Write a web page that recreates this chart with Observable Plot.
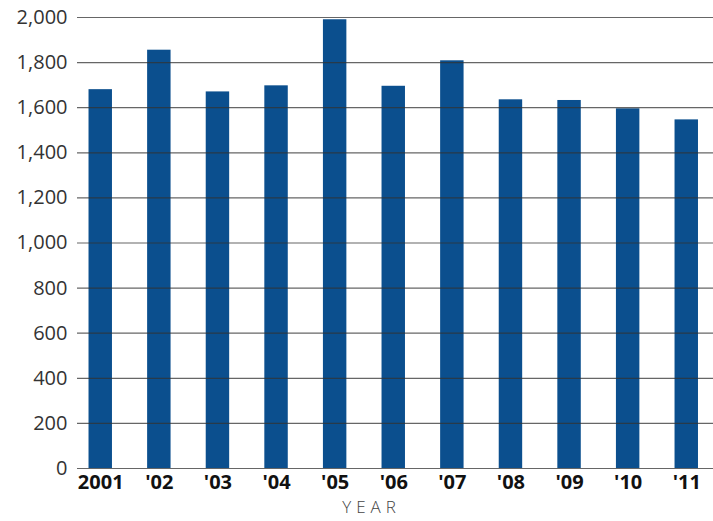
<!DOCTYPE html>
<html>
<head>
<meta charset="utf-8">
<script src="https://cdn.jsdelivr.net/npm/d3@7"></script>
<script src="https://cdn.jsdelivr.net/npm/@observablehq/plot@0.6"></script>
<style>
  html, body { margin: 0; padding: 0; background: #fff; }
  svg { display: block; }
</style>
</head>
<body>
<div id="chart"></div>
<script>
const years = ["2001", "'02", "'03", "'04", "'05", "'06", "'07", "'08", "'09", "'10", "'11"];
const values = [1680, 1855, 1670, 1697, 1990, 1695, 1808, 1635, 1632, 1595, 1546];
const yTicks = [0, 200, 400, 600, 800, 1000, 1200, 1400, 1600, 1800, 2000];
const xLabel = "YEAR";

const data = years.map((y, i) => ({year: y, value: values[i]}));

const chart = Plot.plot({
  width: 713,
  height: 521,
  marginTop: 17,
  marginBottom: 53,
  marginLeft: 77,
  marginRight: 0,
  style: {fontFamily: "'Open Sans', sans-serif", background: "#fff"},
  x: {domain: years, paddingInner: 0.6, paddingOuter: 0.2265, align: 0.434, round: false, label: null},
  y: {domain: [0, 2000], label: null},
  marks: [
    Plot.barY(data, {x: "year", y: "value", fill: "#0b4f8e"}),
    Plot.ruleY(yTicks, {stroke: "#333", strokeOpacity: 0.75, strokeWidth: 1.2}),
    Plot.axisY(yTicks, {tickSize: 0, tickPadding: 10, tickFormat: d3.format(","), fontSize: 20, fill: "#333"}),
    Plot.axisX({tickSize: 0, tickPadding: 6, fontSize: 20, fontWeight: "bold", fill: "#111"}),
    Plot.text([xLabel], {frameAnchor: "bottom", dx: -24, dy: 44, fontSize: 17, fill: "#444", fontWeight: 300})
  ]
});
d3.select(chart).selectAll("text").filter(function() { return this.textContent === xLabel; })
  .attr("letter-spacing", "5px");
document.getElementById("chart").appendChild(chart);
</script>
</body>
</html>
